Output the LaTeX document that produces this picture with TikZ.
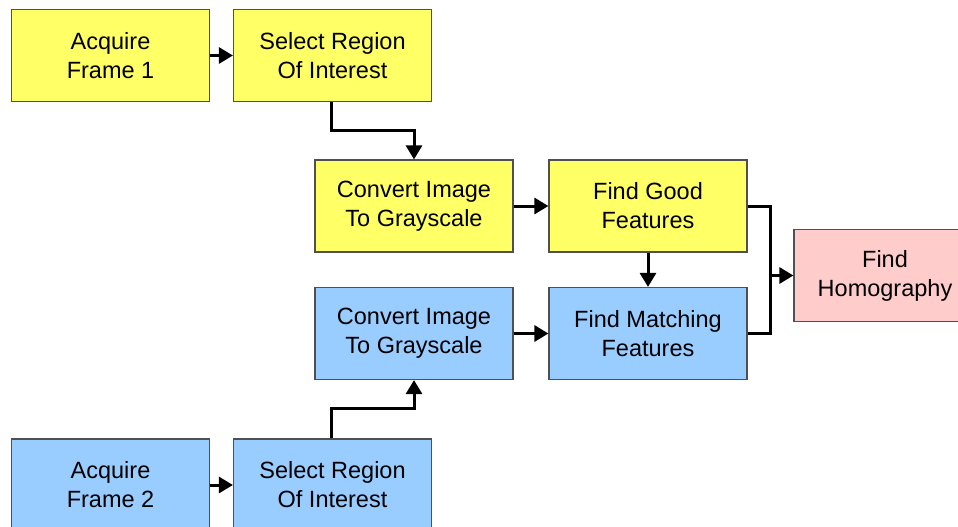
\documentclass[tikz,border=0pt]{standalone}
\usepackage{fontspec}
\setmainfont{Liberation Sans}
\usetikzlibrary{arrows.meta}
\definecolor{stepyellow}{HTML}{FFFF66}
\definecolor{stepblue}{HTML}{99CCFF}
\definecolor{steppink}{HTML}{FFCCCC}
\definecolor{stepedge}{HTML}{505050}
\tikzset{
  stepbox/.style={draw=stepedge, line width=1.2pt, minimum width=198pt, minimum height=92pt,
    align=center, inner sep=0pt, font=\fontsize{23.5}{29}\selectfont},
  yel/.style={stepbox, fill=stepyellow},
  blu/.style={stepbox, fill=stepblue},
  pnk/.style={stepbox, fill=steppink},
  flow/.style={line width=3pt, -{Triangle[length=14pt,width=16pt]}},
  link/.style={line width=3pt}
}
\begin{document}
\begin{tikzpicture}[x=1pt,y=-1pt]
\useasboundingbox (0,0) rectangle (958,527);
\begin{scope}
\clip (0,0) rectangle (958,527);
% first frame chain (yellow)
\node[yel] (acq1) at (110.5,55.5) {Acquire\\Frame 1};
\node[yel] (roi1) at (332.5,55.5) {Select Region\\Of Interest};
\node[yel] (gray1) at (414,206) {Convert Image\\To Grayscale};
\node[yel] (good) at (648,206) {Find Good\\Features};
% second frame chain (blue)
\node[blu] (gray2) at (414,333.5) {Convert Image\\To Grayscale};
\node[blu] (match) at (648,333.5) {Find Matching\\Features};
\node[blu] (acq2) at (110.5,485) {Acquire\\Frame 2};
\node[blu] (roi2) at (332.5,485) {Select Region\\Of Interest};
% result
\node[pnk, minimum width=182pt] (homo) at (885,275.5) {Find\\Homography};

\coordinate (j1) at (331,130);
\coordinate (j2) at (331,408);
\coordinate (mergeR) at (770,275.5);

\draw[flow] (acq1) -- (roi1);
\draw[flow] (roi1.south -| j1) -- (j1) -| (gray1.north);
\draw[flow] (gray1) -- (good);
\draw[flow] (good) -- (match);
\draw[flow] (gray2) -- (match);
\draw[flow] (acq2.east |- roi2.center) -- (roi2);
\draw[flow] (roi2.north -| j2) -- (j2) -| (gray2.south);
\draw[link] (good.east) -| (mergeR) |- (match.east);
\draw[flow] (mergeR) -- (homo);
\end{scope}
\end{tikzpicture}
\end{document}
